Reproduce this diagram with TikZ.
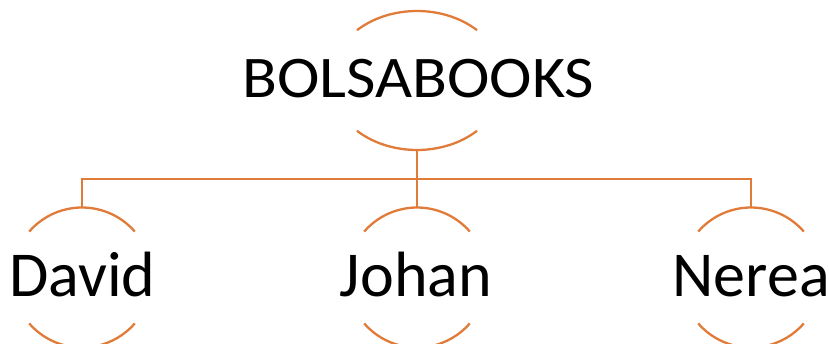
\documentclass[tikz,border=0pt]{standalone}
\usepackage{fontspec}
\setmainfont{Carlito}
\usetikzlibrary{shapes.geometric}
\definecolor{accent}{HTML}{E07B39}
\begin{document}
\begin{tikzpicture}[x=1pt,y=1pt,
  arcline/.style={draw=accent,line width=2.3pt},
  conn/.style={draw=accent,line width=2.3pt},
  holder/.style={circle,inner sep=0pt,outer sep=0pt,minimum size=140pt},
  bigtext/.style={inner sep=0pt,anchor=base,xscale=1.085,font=\fontsize{59}{59}\selectfont},
  smalltext/.style={inner sep=0pt,anchor=base,font=\fontsize{64}{64}\selectfont}]
\useasboundingbox (0,0) rectangle (829,-344);
% top ellipse holder
\node[ellipse,inner sep=0pt,outer sep=0pt,minimum width=174pt,minimum height=139pt] (top) at (417,-80.5) {};
\draw[arcline] ([shift={(417,-80.5)}] 46.4:87 and 69.5) arc[start angle=46.4,end angle=133.6,x radius=87,y radius=69.5];
\draw[arcline] ([shift={(417,-80.5)}] 226.4:87 and 69.5) arc[start angle=226.4,end angle=313.6,x radius=87,y radius=69.5];
\node[bigtext] (ttop) at (418.5,-98) {BOLSABOOKS};
% children
\node[holder] (david) at (82,-277.5) {};
\node[holder] (johan) at (417,-277.5) {};
\node[holder] (nerea) at (751,-277.5) {};
\foreach \c in {david,johan,nerea}{
  \draw[arcline] (\c.41) arc[start angle=41,end angle=139,radius=70pt];
  \draw[arcline] (\c.221) arc[start angle=221,end angle=319,radius=70pt];
}
\node[smalltext] (tdavid) at (82.5,-297) {David};
\node[smalltext] (tjohan) at (416,-297) {Johan};
\node[smalltext] (tnerea) at (751,-297) {Nerea};
% connectors
\coordinate (bus) at (417,-179);
\draw[conn] (top.south) -- (bus);
\draw[conn] (bus) -| (david.north);
\draw[conn] (bus) -| (nerea.north);
\draw[conn] (bus) -- (johan.north);
\end{tikzpicture}
\end{document}
